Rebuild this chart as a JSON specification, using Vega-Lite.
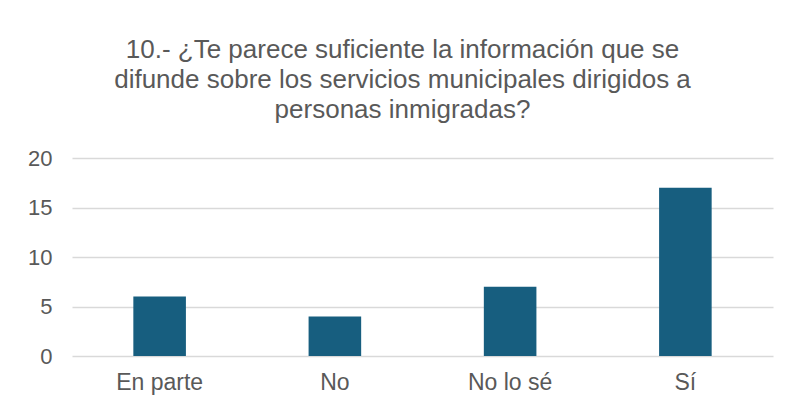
{
  "$schema": "https://vega.github.io/schema/vega-lite/v6.json",
  "width": 701,
  "height": 198,
  "autosize": "none",
  "padding": {"left": 72, "top": 158, "right": 20, "bottom": 49},
  "background": "white",
  "title": {
    "text": ["10.- ¿Te parece suficiente la información que se", "difunde sobre los servicios municipales dirigidos a", "personas inmigradas?"],
    "font": "Liberation Sans",
    "fontSize": 26,
    "fontWeight": "normal",
    "color": "#595959",
    "lineHeight": 30,
    "anchor": "middle",
    "dx": -20,
    "offset": 24
  },
  "data": {
    "values": [
      {"respuesta": "En parte", "n": 6},
      {"respuesta": "No", "n": 4},
      {"respuesta": "No lo sé", "n": 7},
      {"respuesta": "Sí", "n": 17}
    ]
  },
  "mark": {"type": "bar", "color": "#175E7F"},
  "encoding": {
    "x": {
      "field": "respuesta",
      "type": "nominal",
      "sort": null,
      "scale": {"paddingInner": 0.7, "paddingOuter": 0.35},
      "axis": {
        "title": null,
        "labelAngle": 0,
        "labelFont": "Liberation Sans",
        "labelFontSize": 23,
        "labelColor": "#595959",
        "labelPadding": 15,
        "ticks": false,
        "domain": false
      }
    },
    "y": {
      "field": "n",
      "type": "quantitative",
      "scale": {"domain": [0, 20]},
      "axis": {
        "title": null,
        "values": [0, 5, 10, 15, 20],
        "labelFont": "Liberation Sans",
        "labelFontSize": 22,
        "labelColor": "#595959",
        "labelPadding": 20,
        "ticks": false,
        "domain": false,
        "gridColor": "#D9D9D9",
        "gridWidth": 1.5
      }
    }
  },
  "config": {"view": {"stroke": null}}
}
